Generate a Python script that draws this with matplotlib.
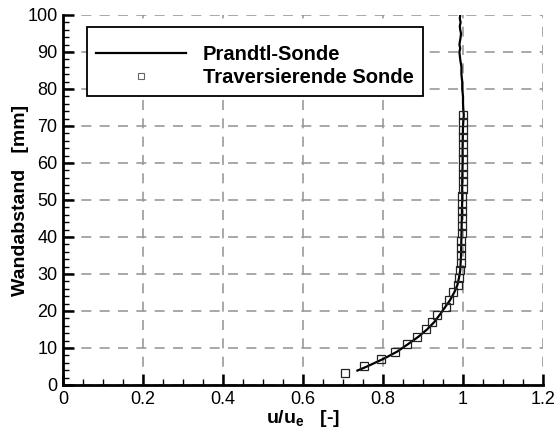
"""Boundary layer profile: Prandtl probe vs traversing probe."""

import matplotlib
matplotlib.use('Agg')
import matplotlib.pyplot as plt
from matplotlib.lines import Line2D
from matplotlib.ticker import MultipleLocator

plt.rcParams['font.family'] = ['Liberation Sans', 'DejaVu Sans']

# Prandtl-Sonde (continuous line)
prandtl_y = [3.9, 5, 7, 9, 11, 13, 15, 17, 19, 21, 23, 25, 27, 29, 31, 35, 40, 45,
             50, 55, 60, 65, 70, 73, 74, 76, 78, 80, 82, 84, 86, 88, 90, 91, 92,
             94, 95, 96, 97, 98, 99, 100]
prandtl_u = [0.736, 0.76, 0.80, 0.835, 0.862, 0.888, 0.91, 0.928, 0.942, 0.955,
             0.968, 0.978, 0.986, 0.990, 0.993, 0.995, 0.996, 0.997, 0.998, 0.998,
             0.999, 0.999, 1.000, 1.002, 1.001, 1.000, 1.000, 0.998, 0.998, 0.996,
             0.996, 0.993, 0.991, 0.993, 0.991, 0.994, 0.995, 0.993, 0.992, 0.994,
             0.992, 0.993]

# Traversierende Sonde (squares)
trav_y = [3.2, 5.0, 7.0, 9.0, 11.0, 13.0, 15.0, 17.0, 19.0, 21.0, 23.0, 25.0, 27.0,
          29.0, 31.0, 33.0, 35.0, 37.0, 39.0, 41.0, 43.0, 45.0, 47.0, 49.0, 51.0,
          53.0, 55.0, 57.0, 59.0, 61.0, 63.0, 65.0, 67.0, 69.0, 71.0, 73.0]
trav_u = [0.705, 0.753, 0.794, 0.829, 0.859, 0.884, 0.907, 0.923, 0.936, 0.957,
          0.965, 0.975, 0.988, 0.991, 0.993, 0.994, 0.995, 0.996, 0.996, 0.997,
          0.997, 0.998, 0.998, 0.998, 0.998, 0.999, 0.999, 0.999, 0.999, 1.000,
          1.000, 1.000, 1.000, 1.000, 1.000, 1.000]

x_ticks = [0, 0.2, 0.4, 0.6, 0.8, 1.0, 1.2]
x_tick_labels = ["0", "0.2", "0.4", "0.6", "0.8", "1", "1.2"]
y_ticks = [0, 10, 20, 30, 40, 50, 60, 70, 80, 90, 100]

fig = plt.figure(figsize=(5.57, 4.28), dpi=100)
ax = fig.add_axes([0.1131, 0.1005, 0.8618, 0.8645])

ax.plot(prandtl_u, prandtl_y, color='black', lw=1.6, zorder=3)
ax.plot(trav_u, trav_y, ls='none', marker='s', ms=5.5, mfc='none',
        mec='#222222', mew=0.9, zorder=4)

ax.set_xlim(0, 1.2)
ax.set_ylim(0, 100)
ax.set_xticks(x_ticks)
ax.set_xticklabels(x_tick_labels)
ax.set_yticks(y_ticks)
ax.xaxis.set_minor_locator(MultipleLocator(0.05))
ax.yaxis.set_minor_locator(MultipleLocator(2))
ax.tick_params(which='major', direction='in', length=8, width=1.8,
               labelsize=13, pad=4, color='black')
ax.tick_params(which='minor', direction='in', length=4, width=1.0)

for side in ('top', 'right'):
    ax.spines[side].set_visible(False)
for side in ('left', 'bottom'):
    ax.spines[side].set_linewidth(2)

ax.grid(True, which='major', color='#9a9a9a', ls=(0, (6, 5)), lw=1.2)
ax.set_axisbelow(True)

ax.set_xlabel(r"u/u$_\mathregular{e}$   [-]", fontsize=14, fontweight='bold', labelpad=0)
ax.set_ylabel("Wandabstand   [mm]", fontsize=14, fontweight='bold', labelpad=-1)

# legend proxies (smaller grey square like the original key)
handles = [
    Line2D([], [], color='black', lw=1.6),
    Line2D([], [], ls='none', marker='s', ms=3.8, mfc='none', mec='#666666', mew=0.8),
]
leg = ax.legend(handles, ["Prandtl-Sonde", "Traversierende Sonde"],
                loc='upper left', bbox_to_anchor=(0.049, 0.968),
                title=" ", title_fontproperties={'size': 4.6},
                prop={'weight': 'bold', 'size': 14.5},
                frameon=True, fancybox=False, framealpha=1,
                handlelength=4.5, handletextpad=0.83, labelspacing=0.21,
                borderpad=0.45, borderaxespad=0)
leg.get_frame().set_edgecolor('black')
leg.get_frame().set_linewidth(1.3)

fig.savefig("out.png", dpi=100)
